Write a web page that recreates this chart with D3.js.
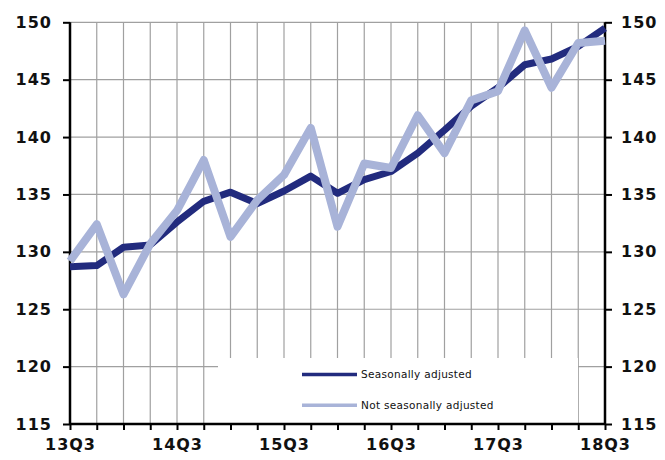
<!DOCTYPE html>
<html><head><meta charset="utf-8">
<script src="https://cdn.jsdelivr.net/npm/d3@7"></script>
<style>body{margin:0;background:#fff}svg{display:block}</style>
</head><body>
<script>
const quarters = ["13Q3","13Q4","14Q1","14Q2","14Q3","14Q4","15Q1","15Q2","15Q3","15Q4","16Q1","16Q2","16Q3","16Q4","17Q1","17Q2","17Q3","17Q4","18Q1","18Q2","18Q3"];
const seasonallyAdjusted = [128.7,128.8,130.4,130.6,132.6,134.4,135.2,134.2,135.3,136.6,135.1,136.3,137.0,138.6,140.6,142.7,144.3,146.3,146.8,147.9,149.5];
const notSeasonallyAdjusted = [129.2,132.4,126.3,130.7,133.6,138.0,131.3,134.5,136.7,140.8,132.2,137.7,137.3,141.9,138.6,143.2,144.0,149.3,144.3,148.2,148.4];
const yTicks = [115,120,125,130,135,140,145,150];
const xTickLabels = ["13Q3","14Q3","15Q3","16Q3","17Q3","18Q3"];
const seriesNames = ["Seasonally adjusted","Not seasonally adjusted"];

const W = 665, H = 460;
const L = 70, R = 605, T = 22.3, B = 424;
const svg = d3.select("body").append("svg").attr("width", W).attr("height", H);
const x = d3.scalePoint().domain(quarters).range([L, R]);
const y = d3.scaleLinear().domain([115,150]).range([B, T]);

const grid = svg.append("g");
grid.selectAll("line.v").data(quarters.slice(1, -1)).join("line")
  .attr("x1", d => x(d)).attr("x2", d => x(d)).attr("y1", T).attr("y2", B)
  .attr("stroke", "#a0a0a0").attr("stroke-width", 1.2);
grid.selectAll("line.h").data(yTicks.slice(1)).join("line")
  .attr("x1", L).attr("x2", R).attr("y1", d => y(d)).attr("y2", d => y(d))
  .attr("stroke", "#a0a0a0").attr("stroke-width", 1.2);

// legend box
svg.append("rect").attr("x", 218).attr("y", 358).attr("width", 360).attr("height", B - 358).attr("fill", "#fff");

const fontFam = "'DejaVu Sans', Verdana, sans-serif";
const lab = (s) => s.attr("font-family", fontFam).attr("font-weight", "bold").attr("font-size", "16px").attr("letter-spacing", "1px").attr("fill", "#111");

const yl = svg.append("g").attr("transform", `translate(${L},0)`).call(d3.axisLeft(y).tickValues(yTicks).tickSize(7).tickPadding(11));
const yr = svg.append("g").attr("transform", `translate(${R},0)`).call(d3.axisRight(y).tickValues(yTicks).tickSize(7).tickPadding(9));
const xb = svg.append("g").attr("transform", `translate(0,${B})`).call(d3.axisBottom(x).tickSize(6).tickPadding(6).tickFormat(d => xTickLabels.includes(d) ? d : ""));
[yl, yr, xb].forEach(g => {
  g.select(".domain").attr("stroke", "#000").attr("stroke-width", 2.5);
  g.selectAll(".tick line").attr("stroke", "#000").attr("stroke-width", 2);
  g.selectAll(".tick text").call(lab);
});
yl.select(".domain").attr("d", `M0,${T}V${B}`);
yr.select(".domain").attr("d", `M0,${T}V${B}`);
xb.select(".domain").attr("d", `M${L},0H${R}`);
xb.selectAll(".tick text").attr("dy", "0.9em");

const line = d3.line().x((d,i) => x(quarters[i])).y(d => y(d)).curve(d3.curveLinear);
svg.append("path").datum(seasonallyAdjusted).attr("d", line).attr("fill","none")
  .attr("stroke","#222b7e").attr("stroke-width",7).attr("stroke-linejoin","round");
svg.append("path").datum(notSeasonallyAdjusted).attr("d", line).attr("fill","none")
  .attr("stroke","#a8b3d8").attr("stroke-width",8).attr("stroke-linejoin","round");

const colors = ["#222b7e","#a8b3d8"];
const lg = svg.append("g");
seriesNames.forEach((n, i) => {
  const yy = 374.5 + i * 30.8;
  lg.append("line").attr("x1", 302).attr("x2", 357).attr("y1", yy).attr("y2", yy)
    .attr("stroke", colors[i]).attr("stroke-width", 3.5);
  lg.append("text").attr("x", 361).attr("y", yy).attr("dy", "0.35em")
    .attr("font-family", fontFam).attr("font-size", "10.5px").attr("letter-spacing", "0.3px").attr("fill", "#111").text(n);
});
</script>
</body></html>
